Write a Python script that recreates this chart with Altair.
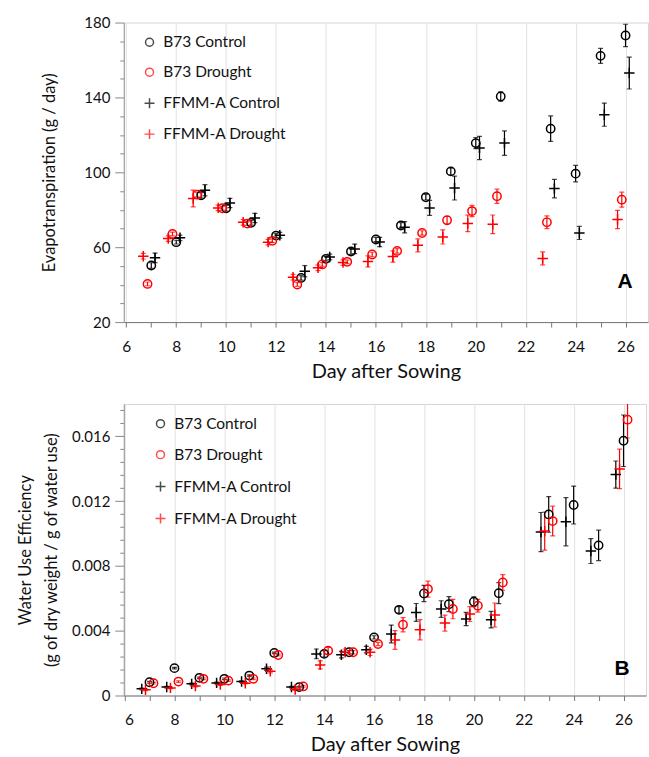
import altair as alt
import pandas as pd

FONT = "Lato"
SERIES = ["B73 Control", "B73 Drought", "FFMM-A Control", "FFMM-A Drought"]
COLORS = ["#000000", "#ff0000", "#000000", "#ff0000"]
CROSS = "M-1.25,0L1.25,0M0,-1.25L0,1.25"
SHAPES = ["circle", "circle", CROSS, CROSS]

days_ctrl = [7, 8, 9, 10, 11, 12, 13, 14, 15, 16, 17, 18, 19, 20, 21, 23, 24, 25, 26]
days_drt = [7, 8, 9, 10, 11, 12, 13, 14, 15, 16, 17, 18, 19, 20, 21, 23, 26]

# ---------------- Panel A: Evapotranspiration (g / day) ----------------
et_b73_ctrl = [50.2, 62.7, 87.7, 80.8, 73.0, 66.2, 43.6, 53.8, 57.7, 64.1, 71.6, 86.7, 100.5, 115.6, 140.5, 123.3, 99.3, 162.2, 173.1]
et_b73_ctrl_err = [1.5, 1.0, 1.5, 1.5, 1.2, 1.0, 1.2, 1.2, 1.5, 1.2, 1.5, 1.5, 1.8, 3.0, 2.5, 6.8, 4.4, 4.0, 6.0]
et_b73_drt = [40.4, 67.1, 88.1, 80.8, 72.6, 63.4, 40.1, 50.8, 52.2, 56.1, 58.0, 67.6, 74.4, 79.3, 87.2, 73.3, 85.4]
et_b73_drt_err = [1.0, 1.0, 1.2, 1.0, 1.0, 1.0, 1.0, 1.0, 1.0, 1.2, 1.2, 1.2, 2.0, 3.0, 3.8, 3.4, 4.0]
et_ffmm_ctrl = [54.3, 65.0, 90.4, 83.6, 75.6, 66.4, 47.2, 54.8, 59.1, 62.8, 70.7, 81.0, 91.6, 113.0, 115.6, 91.3, 67.6, 130.8, 153.0]
et_ffmm_ctrl_err = [2.5, 1.5, 3.0, 2.5, 2.5, 1.5, 3.0, 1.5, 2.5, 2.5, 3.0, 4.0, 6.4, 6.2, 6.5, 4.9, 3.5, 6.2, 8.5]
et_ffmm_drt = [55.2, 64.6, 86.0, 81.0, 73.3, 62.7, 44.0, 49.0, 51.8, 52.4, 55.0, 61.0, 65.5, 72.7, 72.2, 54.0, 74.8]
et_ffmm_drt_err = [1.5, 1.5, 4.5, 1.5, 1.5, 1.5, 1.5, 1.5, 1.5, 3.0, 3.0, 3.5, 3.8, 4.4, 5.0, 3.5, 4.9]

# ---------------- Panel B: Water use efficiency ----------------
wue_b73_ctrl = [0.00082, 0.00169, 0.00109, 0.00103, 0.00123, 0.00263, 0.00052, 0.00257, 0.00267, 0.00359, 0.00529, 0.0063, 0.00564, 0.00579, 0.00632, 0.01118, 0.01176, 0.00927, 0.01573]
wue_b73_ctrl_err = [0.00005, 0.00005, 0.00005, 0.00005, 0.00005, 0.00005, 0.00005, 0.0002, 0.0001, 0.0001, 0.0002, 0.0005, 0.00046, 0.0003, 0.00065, 0.0011, 0.00117, 0.00094, 0.00159]
wue_b73_drt = [0.00076, 0.00086, 0.00103, 0.00092, 0.00103, 0.0025, 0.00056, 0.00277, 0.00267, 0.00318, 0.00437, 0.00657, 0.00534, 0.00554, 0.00698, 0.01077, 0.01703]
wue_b73_drt_err = [0.00005, 0.00005, 0.00005, 0.00005, 0.00005, 0.00005, 0.00005, 0.0002, 0.0001, 0.0001, 0.00044, 0.00049, 0.0006, 0.00039, 0.00048, 0.00092, 0.00113]
wue_ffmm_ctrl = [0.00041, 0.00052, 0.00072, 0.00078, 0.00086, 0.00165, 0.00052, 0.00257, 0.00252, 0.00283, 0.0038, 0.00513, 0.00534, 0.00472, 0.00468, 0.01009, 0.01073, 0.00892, 0.01364]
wue_ffmm_ctrl_err = [0.00005, 0.00005, 0.00005, 0.00005, 0.00005, 0.0001, 0.00005, 0.0003, 0.0002, 0.0002, 0.00055, 0.00055, 0.00051, 0.00041, 0.00051, 0.00121, 0.00149, 0.00077, 0.00084]
wue_ffmm_drt = [0.00035, 0.00047, 0.00058, 0.00068, 0.00076, 0.0015, 0.00037, 0.00189, 0.00267, 0.00267, 0.00343, 0.00406, 0.00447, 0.00503, 0.00497, 0.01015, 0.01399]
wue_ffmm_drt_err = [0.00005, 0.00005, 0.00005, 0.00005, 0.00005, 0.0001, 0.00005, 0.00025, 0.0002, 0.0002, 0.00058, 0.00062, 0.00049, 0.00046, 0.00074, 0.00118, 0.00122]

# horizontal offset of each series around the sampling day
offset_a = {"B73 Control": 0.0, "B73 Drought": -0.15, "FFMM-A Control": 0.15, "FFMM-A Drought": -0.32}
offset_b = {"B73 Control": 0.0, "B73 Drought": 0.16, "FFMM-A Control": -0.31, "FFMM-A Drought": -0.16}


def build(series_data, offsets):
    rows = []
    for name, days, vals, errs in series_data:
        col = COLORS[SERIES.index(name)]
        for d, v, e in zip(days, vals, errs):
            rows.append({"series": name, "x": d + offsets[name], "v": v,
                         "lo": v - e, "hi": v + e, "col": col})
    return pd.DataFrame(rows)


df_a = build([
    ("B73 Control", days_ctrl, et_b73_ctrl, et_b73_ctrl_err),
    ("B73 Drought", days_drt, et_b73_drt, et_b73_drt_err),
    ("FFMM-A Control", days_ctrl, et_ffmm_ctrl, et_ffmm_ctrl_err),
    ("FFMM-A Drought", days_drt, et_ffmm_drt, et_ffmm_drt_err),
], offset_a)

df_b = build([
    ("B73 Control", days_ctrl, wue_b73_ctrl, wue_b73_ctrl_err),
    ("B73 Drought", days_drt, wue_b73_drt, wue_b73_drt_err),
    ("FFMM-A Control", days_ctrl, wue_ffmm_ctrl, wue_ffmm_ctrl_err),
    ("FFMM-A Drought", days_drt, wue_ffmm_drt, wue_ffmm_drt_err),
], offset_b)

x_ticks = list(range(6, 27))
et_ticks = list(range(20, 181, 10))
wue_ticks = [round(i * 0.0008, 4) for i in range(23)]


def panel(df, x_domain, width, y_domain, y_ticks, major_test, y_title, title_pad,
          letter, letter_xy, height, legend_xy, row_pad):
    x_axis = alt.Axis(
        values=x_ticks,
        labelExpr="datum.value % 2 == 0 ? datum.label : ''",
        grid=True,
        gridColor="#e2e2e2",
        gridOpacity={"condition": {"test": "datum.value % 2 == 0", "value": 1}, "value": 0},
        tickSize=5, tickColor="#777777", domainColor="#777777",
        labelPadding=12, labelFontSize=15.5, labelColor="#111111",
        title="Day after Sowing", titleFontSize=20, titleFontWeight="normal",
        titlePadding=7, titleColor="#111111",
    )
    y_axis = alt.Axis(
        values=y_ticks,
        labelExpr=f"({major_test}) ? format(datum.value, '~g') : ''",
        grid=False,
        tickSize={"condition": {"test": major_test, "value": 9}, "value": 4},
        tickColor="#888888", domainColor="#999999",
        labelPadding=5, labelFontSize=15, labelColor="#111111",
        title=y_title, titleFontSize=16.5, titleFontWeight="normal",
        titlePadding=title_pad, titleColor="#111111", titleLineHeight=26,
    )
    x_enc = alt.X("x:Q", scale=alt.Scale(domain=x_domain, nice=False, zero=False), axis=x_axis)

    def y_enc(field):
        return alt.Y(f"{field}:Q", scale=alt.Scale(domain=y_domain, nice=False, zero=False), axis=y_axis)

    base = alt.Chart(df)
    col_enc = alt.Color("col:N", scale=None)
    rules = base.mark_rule(strokeWidth=1.2, clip=True).encode(x=x_enc, y=y_enc("lo"), y2="hi:Q", color=col_enc)
    caps_lo = base.mark_tick(orient="horizontal", size=5, thickness=1.2, clip=True).encode(
        x=x_enc, y=y_enc("lo"), color=col_enc)
    caps_hi = base.mark_tick(orient="horizontal", size=5, thickness=1.2, clip=True).encode(
        x=x_enc, y=y_enc("hi"), color=col_enc)
    points = base.mark_point(filled=False, size=70, strokeWidth=1.5, opacity=1, clip=True).encode(
        x=x_enc, y=y_enc("v"),
        color=alt.Color("series:N", scale=alt.Scale(domain=SERIES, range=COLORS),
                        legend=alt.Legend(title=None, orient="none",
                                          legendX=legend_xy[0], legendY=legend_xy[1],
                                          labelFont=FONT, labelFontSize=15.5, labelColor="#111111",
                                          rowPadding=row_pad, symbolSize=64, symbolStrokeWidth=1.5,
                                          labelOffset=6, padding=0)),
        shape=alt.Shape("series:N", scale=alt.Scale(domain=SERIES, range=SHAPES)),
    )
    text = alt.Chart(pd.DataFrame({"t": [letter]})).mark_text(
        font="Liberation Sans", fontSize=21, fontWeight="bold", color="#000000",
        align="center", baseline="middle").encode(
        x=alt.value(letter_xy[0]), y=alt.value(letter_xy[1]), text="t:N")
    return alt.layer(rules, caps_lo, caps_hi, points, text).properties(width=width, height=height)


chart_a = panel(df_a, [5.9, 26.9], 525, [20, 180], et_ticks,
                "(datum.value - 20) % 40 == 0", "Evapotranspiration (g / day)", 26,
                "A", (502, 260), 300, (18, 12), 13)
chart_b = panel(df_b, [5.97, 26.9], 523, [0, 0.018], wue_ticks,
                "abs(datum.value / 0.004 - round(datum.value / 0.004)) < 0.000001",
                ["Water Use Efficiency", "(g of dry weight / g of water use)"], 12,
                "B", (499, 265), 292, (29, 12), 14)

chart = alt.vconcat(chart_a, chart_b, spacing=21).resolve_scale(
    x="independent", y="independent", color="independent", shape="independent"
).resolve_legend(color="independent", shape="independent").properties(
    padding={"left": 17, "top": 14, "right": 0, "bottom": 0}
).configure(font=FONT).configure_view(stroke="#d6d6d6").configure_axis(
    labelFont=FONT, titleFont=FONT)

chart.save("out.html", embed_options={"renderer": "svg", "actions": False})
